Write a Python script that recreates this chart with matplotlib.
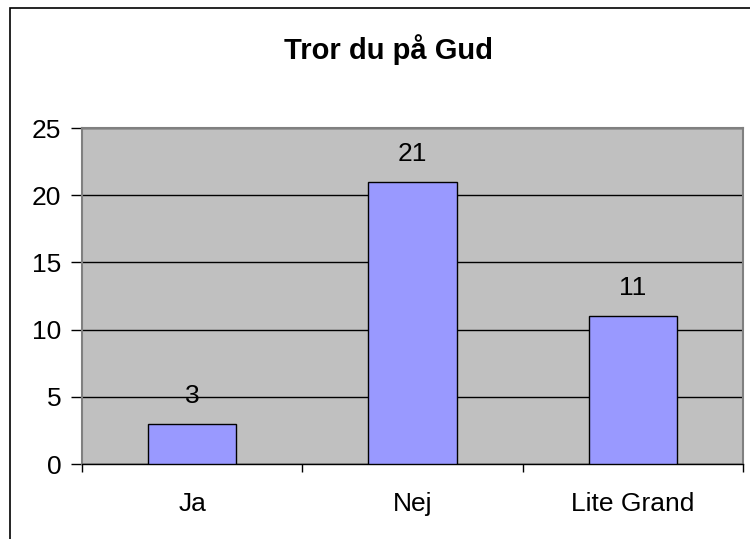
import matplotlib
matplotlib.use("Agg")
import matplotlib.pyplot as plt
from matplotlib.patches import Rectangle

plt.rcParams['font.family'] = ['Liberation Sans', 'DejaVu Sans']

categories = ['Ja', 'Nej', 'Lite Grand']
values = [3, 21, 11]
title = 'Tror du på Gud'

W, H = 750, 539
fig = plt.figure(figsize=(W / 100, H / 100), dpi=100)

# outer chart frame (runs off the right and bottom edges)
fig.patches.append(Rectangle((10 / W, -0.1), 1.2, 1 - 8 / H + 0.1,
                             transform=fig.transFigure, fill=False,
                             edgecolor='black', linewidth=1.2))

ax = fig.add_axes([82 / W, (H - 464) / H, 661 / W, 336 / H])
ax.set_facecolor('#c0c0c0')

x = range(len(categories))
ax.bar(x, values, width=0.4, color='#9999ff', edgecolor='black',
       linewidth=1, zorder=3)
for xi, v in zip(x, values):
    ax.annotate(str(v), (xi, v), xytext=(0, 20), textcoords='offset points',
                ha='center', va='center', fontsize=19)

ax.set_xlim(-0.5, len(categories) - 0.5)
ax.set_ylim(0, 25)
ax.set_yticks(range(0, 26, 5))
ax.yaxis.grid(True, color='black', linewidth=1, zorder=1)
ax.set_axisbelow(True)

ax.set_xticks([i - 0.5 for i in range(len(categories) + 1)], minor=False)
ax.set_xticklabels([])
ax.set_xticks(list(x), minor=True)
ax.set_xticklabels(categories, minor=True, fontsize=19)
ax.tick_params(axis='x', which='major', direction='out', length=6,
               width=1, color='black')
ax.tick_params(axis='x', which='minor', length=0, pad=20)
ax.tick_params(axis='y', direction='out', length=8, width=1,
               labelsize=19, pad=7)

for side in ['top', 'right', 'left']:
    ax.spines[side].set_color('#808080')
    ax.spines[side].set_linewidth(1.5)
ax.spines['bottom'].set_color('black')
ax.spines['bottom'].set_linewidth(1)

fig.text(388 / W, 1 - 50 / H, title, ha='center', va='center',
         fontsize=21, fontweight='bold')

fig.savefig('out.png', dpi=100)
